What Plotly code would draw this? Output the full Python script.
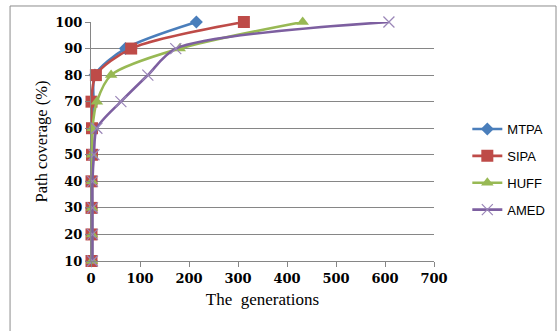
import plotly.graph_objects as go

coverage = [10, 20, 30, 40, 50, 60, 70, 80, 90, 100]
mtpa = [1, 1, 1, 1, 2, 2, 5, 8, 70, 215]
sipa = [1, 1, 1, 1, 2, 2, 1, 10, 82, 312]
huff = [2, 2, 2, 2, 2, 3, 12, 41, 181, 432]
amed = [3, 3, 3, 3, 6, 12, 61, 116, 173, 608]

names = ["MTPA", "SIPA", "HUFF", "AMED"]
series = [mtpa, sipa, huff, amed]
colors = ["#4A7EBB", "#BE4B48", "#98B954", "#7D5FA0"]
symbols = ["diamond", "square", "triangle-up", "x-thin"]
msizes = [10, 12, 11, 11]

fig = go.Figure()
for n, s, c, sym, ms in zip(names, series, colors, symbols, msizes):
    marker = dict(symbol=sym, size=ms, color=c)
    if sym == "x-thin":
        marker = dict(symbol=sym, size=ms, color=c, line=dict(color="#9A86B8", width=1.2))
    fig.add_trace(go.Scatter(
        x=s, y=coverage, name=n, mode="lines+markers",
        line=dict(color=c, width=2.6, shape="spline", smoothing=0.8),
        marker=marker, legendgroup=n, cliponaxis=False,
    ))

serif = "Liberation Serif"
tickfont = dict(family="DejaVu Serif", size=13, color="black", weight="bold")
fig.update_layout(
    width=557, height=331,
    margin=dict(l=91, r=123, t=22, b=70, autoexpand=False),
    plot_bgcolor="white", paper_bgcolor="white",
    showlegend=True,
    legend=dict(
        xref="container", yref="container",
        x=0.839, y=0.6556, xanchor="left", yanchor="top",
        font=dict(family="Liberation Sans", size=13, color="black"),
        tracegroupgap=7, traceorder="grouped",
        bgcolor="rgba(0,0,0,0)", itemwidth=30,
    ),
    xaxis=dict(
        range=[0, 700], dtick=100, tick0=0,
        showgrid=False, zeroline=False,
        showline=True, linecolor="#868686", linewidth=1,
        ticks="outside", ticklen=5, tickcolor="#868686",
        tickfont=tickfont,
        title=dict(text="The\u00a0 generations", font=dict(family=serif, size=17, color="black"), standoff=8),
    ),
    yaxis=dict(
        range=[10, 100], dtick=10, tick0=10,
        showgrid=True, gridcolor="#868686", gridwidth=1,
        zeroline=False,
        showline=True, linecolor="#868686", linewidth=1,
        ticks="outside", ticklen=5, tickcolor="#868686",
        tickfont=tickfont,
        title=dict(text="Path coverage (%)", font=dict(family=serif, size=16.5, color="black"), standoff=3),
    ),
    shapes=[dict(type="rect", xref="paper", yref="paper",
                 x0=-0.236, x1=1.3557, y0=-0.4, y1=1.067,
                 line=dict(color="#8C8C8C", width=1), fillcolor="rgba(0,0,0,0)", layer="below")],
)

fig.write_html("out.html")
